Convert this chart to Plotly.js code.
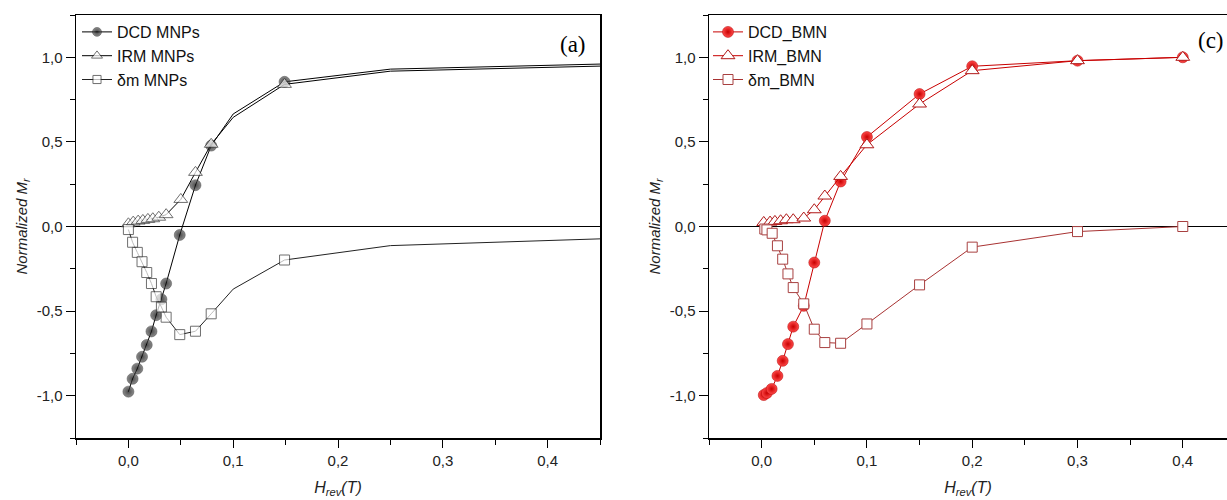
<!DOCTYPE html>
<html>
<head>
<meta charset="utf-8">
<script src="https://cdn.plot.ly/plotly-3.0.1.min.js"></script>
<style>html,body{margin:0;padding:0;background:#fff;overflow:hidden}#chart{width:1227px;height:500px}</style>
</head>
<body>
<div id="chart"></div>
<script>
// ---- Panel (a): MNPs ----
const dcdMnpX = [0, 0.004, 0.0085, 0.013, 0.0175, 0.022, 0.0265, 0.0315, 0.036, 0.049, 0.064, 0.079, 0.1, 0.149, 0.25, 0.45];
const dcdMnpY = [-0.976, -0.90, -0.84, -0.77, -0.70, -0.62, -0.524, -0.43, -0.337, -0.05, 0.244, 0.478, 0.665, 0.855, 0.93, 0.96];
const irmMnpX = [0, 0.0046, 0.0093, 0.0138, 0.0186, 0.0233, 0.029, 0.036, 0.05, 0.064, 0.079, 0.1, 0.149, 0.25, 0.45];
const irmMnpY = [0.016, 0.026, 0.032, 0.036, 0.042, 0.046, 0.055, 0.07, 0.16, 0.32, 0.486, 0.645, 0.84, 0.918, 0.948];
const dmMnpX = [0, 0.004, 0.0085, 0.013, 0.0175, 0.022, 0.0265, 0.0315, 0.036, 0.049, 0.064, 0.079, 0.1, 0.149, 0.25, 0.45];
const dmMnpY = [-0.018, -0.093, -0.153, -0.208, -0.272, -0.337, -0.415, -0.476, -0.536, -0.639, -0.619, -0.516, -0.37, -0.198, -0.113, -0.073];
// field values in panel (a) drawn without a symbol
const noSymbolA = [0.1, 0.25, 0.45];

// ---- Panel (c): BMN ----
const dcdBmnX = [0.002, 0.005, 0.0095, 0.015, 0.020, 0.025, 0.030, 0.040, 0.050, 0.060, 0.075, 0.1, 0.15, 0.2, 0.3, 0.4];
const dcdBmnY = [-0.996, -0.984, -0.96, -0.883, -0.794, -0.695, -0.592, -0.469, -0.213, 0.034, 0.266, 0.529, 0.783, 0.947, 0.98, 1.0];
const irmBmnX = [0.002, 0.008, 0.0126, 0.018, 0.0235, 0.03, 0.04, 0.05, 0.06, 0.075, 0.1, 0.15, 0.2, 0.3, 0.4];
const irmBmnY = [0.024, 0.026, 0.03, 0.034, 0.04, 0.04, 0.05, 0.099, 0.18, 0.296, 0.483, 0.724, 0.921, 0.98, 1.0];
const dmBmnX = [0.003, 0.005, 0.010, 0.015, 0.020, 0.025, 0.030, 0.040, 0.050, 0.060, 0.075, 0.1, 0.15, 0.2, 0.3, 0.4];
const dmBmnY = [-0.015, -0.02, -0.04, -0.114, -0.193, -0.28, -0.361, -0.457, -0.607, -0.686, -0.69, -0.576, -0.345, -0.122, -0.03, 0.0];

const seriesNames = ['DCD MNPs', 'IRM MNPs', '\u03b4m MNPs', 'DCD_BMN', 'IRM_BMN', '\u03b4m_BMN'];
const xTickVals = [0, 0.1, 0.2, 0.3, 0.4];
const xTickText = ['0,0', '0,1', '0,2', '0,3', '0,4'];
const yTickVals = [-1, -0.5, 0, 0.5, 1];
const yTickText = ['-1,0', '-0,5', '0,0', '0,5', '1,0'];

function sizes(xs, s, skip) { return xs.map(v => (skip && skip.some(k => Math.abs(k - v) < 1e-9)) ? 0 : s); }

const FONT = "'Liberation Sans', Arial, sans-serif";
const red = '#c80000';

const traces = [
  { x: dcdMnpX, y: dcdMnpY, name: seriesNames[0], mode: 'lines+markers', xaxis: 'x', yaxis: 'y', legend: 'legend',
    line: { color: '#000', width: 1 },
    marker: { symbol: 'circle', size: sizes(dcdMnpX, 11, noSymbolA), color: '#5a5a5a', gradient: { type: 'radial', color: '#000' }, line: { color: '#000', width: 0.5 } } },
  { x: irmMnpX, y: irmMnpY, name: seriesNames[1], mode: 'lines+markers', xaxis: 'x', yaxis: 'y', legend: 'legend',
    line: { color: '#000', width: 1 },
    marker: { symbol: 'triangle-up', size: sizes(irmMnpX, 12, noSymbolA), color: '#fff', line: { color: '#333', width: 1 } } },
  { x: dmMnpX, y: dmMnpY, name: seriesNames[2], mode: 'lines+markers', xaxis: 'x', yaxis: 'y', legend: 'legend',
    line: { color: '#222', width: 1 },
    marker: { symbol: 'square', size: sizes(dmMnpX, 10, noSymbolA), color: '#fff', line: { color: '#333', width: 1 } } },
  { x: dcdBmnX, y: dcdBmnY, name: seriesNames[3], mode: 'lines+markers', xaxis: 'x2', yaxis: 'y2', legend: 'legend2',
    line: { color: red, width: 1 },
    marker: { symbol: 'circle', size: 11, color: '#ff4a4a', gradient: { type: 'radial', color: '#c80000' }, line: { color: '#b00000', width: 0.5 } } },
  { x: irmBmnX, y: irmBmnY, name: seriesNames[4], mode: 'lines+markers', xaxis: 'x2', yaxis: 'y2', legend: 'legend2',
    line: { color: red, width: 1 },
    marker: { symbol: 'triangle-up', size: 12, color: '#fff', line: { color: '#b01818', width: 1 } } },
  { x: dmBmnX, y: dmBmnY, name: seriesNames[5], mode: 'lines+markers', xaxis: 'x2', yaxis: 'y2', legend: 'legend2',
    line: { color: '#a83232', width: 1 },
    marker: { symbol: 'square', size: 10, color: '#fff', line: { color: '#a84040', width: 1 } } }
];

function xAxis(domain, range, anchor) {
  return {
    domain: domain, range: range, anchor: anchor,
    tickvals: xTickVals, ticktext: xTickText, ticks: 'outside', ticklen: 8, tickwidth: 1, tickcolor: '#000',
    minor: { dtick: 0.05, tick0: 0, ticks: 'outside', ticklen: 5, tickcolor: '#000', tickwidth: 1 },
    showline: true, linecolor: '#000', linewidth: 1.5, mirror: true,
    showgrid: false, zeroline: false,
    tickfont: { family: FONT, size: 15, color: '#222' },
    title: { text: '<i>H</i><sub><i>rev</i></sub><i>(T)</i>', font: { family: FONT, size: 16, color: '#222' }, standoff: 14 }
  };
}
function yAxis(anchor, mirror) {
  return {
    domain: [0, 1], range: [-1.25, 1.25], anchor: anchor,
    tickvals: yTickVals, ticktext: yTickText, ticks: 'outside', ticklen: 9, tickwidth: 1, tickcolor: '#000',
    minor: { dtick: 0.25, tick0: 0, ticks: 'outside', ticklen: 5, tickcolor: '#000', tickwidth: 1 },
    showline: true, linecolor: '#000', linewidth: 1.5, mirror: mirror,
    showgrid: false, zeroline: true, zerolinecolor: '#000', zerolinewidth: 1.5,
    tickfont: { family: FONT, size: 15, color: '#222' },
    title: { text: '<i>Normalized M</i><sub><i>r</i></sub>', font: { family: FONT, size: 15, color: '#222' }, standoff: 5 }
  };
}

const layout = {
  width: 1227, height: 500,
  margin: { l: 0, r: 0, t: 15, b: 62 },
  paper_bgcolor: '#fff', plot_bgcolor: '#fff',
  showlegend: true,
  xaxis: xAxis([76 / 1227, 600 / 1227], [-0.05, 0.45], 'y'),
  yaxis: yAxis('x', true),
  xaxis2: xAxis([709 / 1227, 1], [-0.05, 0.442], 'y2'),
  yaxis2: yAxis('x2', false),
  legend: { x: 77 / 1227, y: 1, xanchor: 'left', yanchor: 'top', bgcolor: 'rgba(0,0,0,0)', borderwidth: 0,
    font: { family: FONT, size: 16, color: '#111' }, tracegroupgap: 0 },
  legend2: { x: 708 / 1227, y: 1, xanchor: 'left', yanchor: 'top', bgcolor: 'rgba(0,0,0,0)', borderwidth: 0,
    font: { family: FONT, size: 16, color: '#111' }, tracegroupgap: 0 },
  annotations: [
    { text: '(a)', xref: 'paper', yref: 'paper', x: 588 / 1227, y: 1 - (44 - 15) / 423, xanchor: 'right', yanchor: 'middle', showarrow: false,
      font: { family: "'Liberation Serif', 'Times New Roman', serif", size: 23, color: '#000' } },
    { text: '(c)', xref: 'paper', yref: 'paper', x: 1226 / 1227, y: 1 - (41 - 15) / 423, xanchor: 'right', yanchor: 'middle', showarrow: false,
      font: { family: "'Liberation Serif', 'Times New Roman', serif", size: 23, color: '#000' } }
  ]
};

Plotly.newPlot('chart', traces, layout, { displayModeBar: false, staticPlot: true });
</script>
</body>
</html>
